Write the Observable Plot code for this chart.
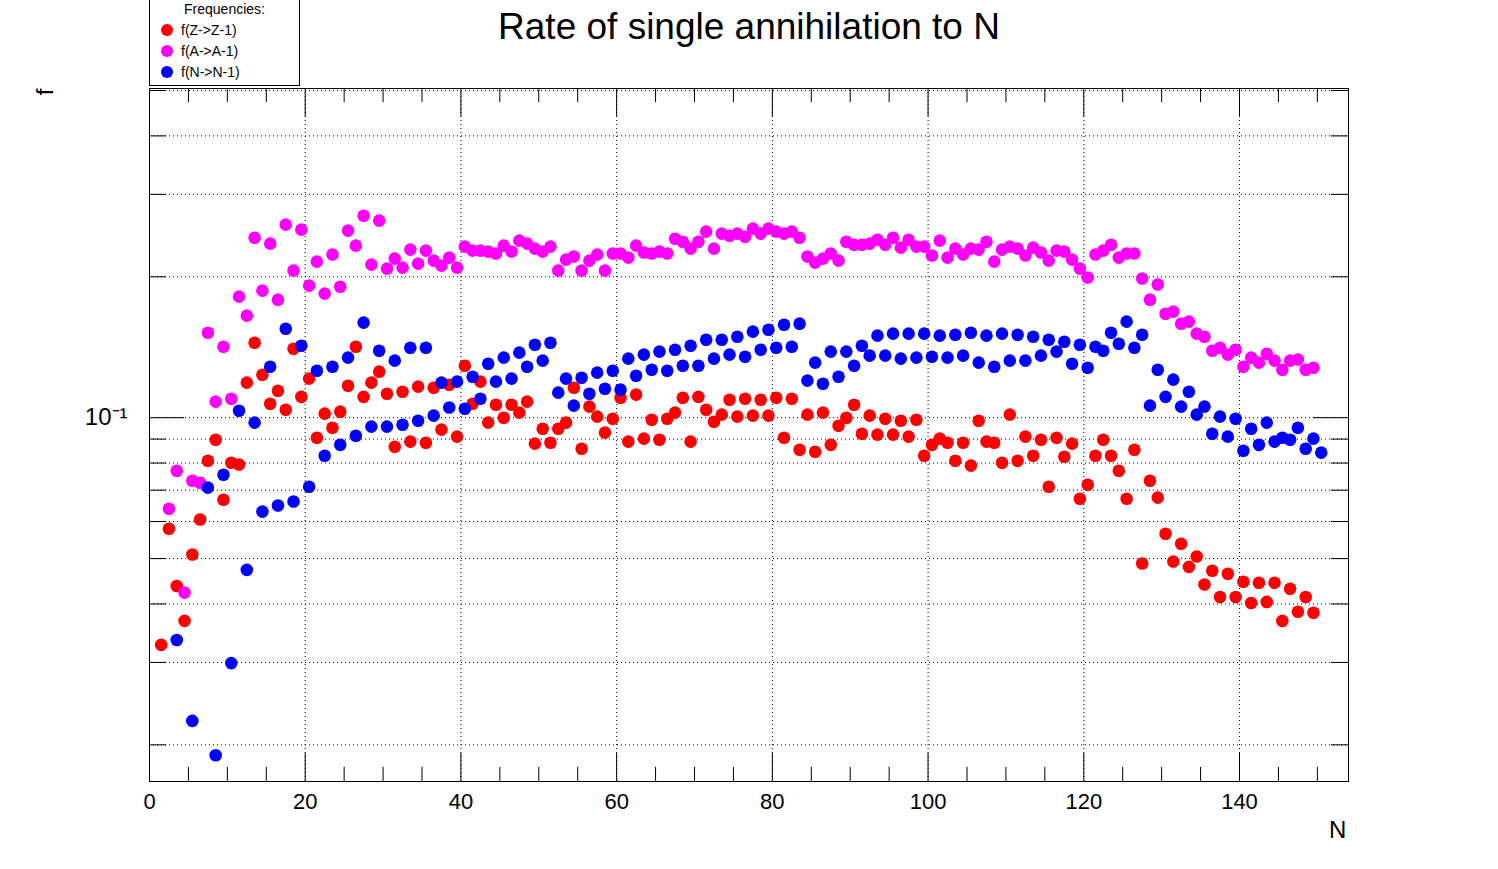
<!DOCTYPE html>
<html>
<head>
<meta charset="utf-8">
<script src="https://cdn.jsdelivr.net/npm/d3@7"></script>
<script src="https://cdn.jsdelivr.net/npm/@observablehq/plot@0.6"></script>
<style>
  body { margin: 0; background: #fff; font-family: "Liberation Sans", Arial, sans-serif; }
  #wrap { position: relative; width: 1498px; height: 869px; }
  #chart { position: absolute; left: 0; top: 0; }
  .title { position: absolute; left: 0; width: 1498px; top: 6px; text-align: center; font-size: 37px; }
  .legend { position: absolute; left: 149px; top: -1px; width: 149px; height: 85px; border: 1px solid #000; background: #fff; font-size: 14px; }
  .legend .hd { text-align: center; margin-top: 1px; }
  .legend .row { position: absolute; left: 11px; }
  .legend .dot { display: inline-block; width: 12px; height: 12px; border-radius: 6px; vertical-align: -1px; margin-right: 8px; }
  .ylab { position: absolute; left: 42px; top: 78px; font-size: 24px; transform: rotate(-90deg); }
  .xlab { position: absolute; left: 1329px; top: 816px; font-size: 24px; }
</style>
</head>
<body>
<div id="wrap">
  <div id="chart"></div>
  <div class="title">Rate of single annihilation to N</div>
  <div class="legend">
    <div class="hd">Frequencies:</div>
    <div class="row" style="top:22px"><span class="dot" style="background:#ff0000"></span>f(Z-&gt;Z-1)</div>
    <div class="row" style="top:43px"><span class="dot" style="background:#ff00ff"></span>f(A-&gt;A-1)</div>
    <div class="row" style="top:64px"><span class="dot" style="background:#0000ff"></span>f(N-&gt;N-1)</div>
  </div>
  <div class="ylab">f</div>
  <div class="xlab">N</div>
</div>
<script>
// f(Z->Z-1), N = 1..149
const fZ = [.0327,.0579,.0437,.0368,.0510,.0606,.0809,.0897,.0668,.0801,
  .0794,.1188,.1446,.1235,.1071,.1142,.1040,.1404,.1108,.1212,
  .0906,.1020,.0952,.1030,.1170,.1418,.1108,.1188,.1254,.1125,
  .0867,.1136,.0889,.1165,.0884,.1159,.0943,.1176,.0911,.1291,
  .1071,.1194,.0976,.1066,.1000,.1066,.1025,.1082,.0880,.0947,
  .0884,.0947,.0976,.1159,.0858,.1056,.1005,.0929,.0995,.1103,
  .0889,.1120,.0902,.0990,.0897,.0995,.1025,.1103,.0889,.1108,
  .1040,.0980,.1015,.1092,.1005,.1098,.1010,.1092,.1010,.1103,
  .0906,.1098,.0854,.1015,.0846,.1025,.0875,.0961,.1000,.1066,
  .0924,.1010,.0920,.0995,.0920,.0985,.0911,.0990,.0829,.0875,
  .0902,.0884,.0809,.0884,.0790,.0985,.0889,.0884,.0801,.1015,
  .0809,.0911,.0829,.0897,.0712,.0906,.0825,.0880,.0671,.0719,
  .0829,.0897,.0829,.0770,.0671,.0854,.0488,.0733,.0675,.0565,
  .0493,.0538,.0480,.0505,.0440,.0471,.0414,.0464,.0414,.0446,
  .0402,.0444,.0404,.0444,.0368,.0431,.0385,.0414,.0383]

// f(A->A-1), N = 1..149
const fA = [null,.0639,.0770,.0423,.0733,.0726,.1519,.1082,.1418,.1098,
  .1814,.1652,.2424,.1868,.2354,.1787,.2585,.2062,.2522,.1915,
  .2155,.1841,.2231,.1905,.2510,.2331,.2700,.2123,.2636,.2082,
  .2187,.2092,.2286,.2134,.2275,.2165,.2113,.2198,.2092,.2320,
  .2275,.2275,.2264,.2242,.2331,.2264,.2389,.2354,.2297,.2264,
  .2320,.2062,.2176,.2209,.2062,.2165,.2231,.2062,.2242,.2242,
  .2198,.2331,.2253,.2242,.2264,.2242,.2412,.2377,.2297,.2377,
  .2498,.2297,.2473,.2448,.2473,.2436,.2535,.2473,.2535,.2498,
  .2473,.2498,.2424,.2209,.2144,.2187,.2242,.2165,.2377,.2342,
  .2342,.2354,.2400,.2342,.2424,.2308,.2400,.2320,.2320,.2220,
  .2389,.2198,.2297,.2231,.2297,.2286,.2377,.2155,.2286,.2320,
  .2297,.2220,.2308,.2253,.2165,.2275,.2264,.2176,.2082,.1993,
  .2231,.2275,.2342,.2198,.2242,.2242,.1983,.1787,.1925,.1668,
  .1685,.1588,.1604,.1512,.1489,.1390,.1411,.1364,.1397,.1285,
  .1344,.1311,.1370,.1324,.1266,.1324,.1331,.1266,.1278]

// f(N->N-1), N = 1..150
const fN = [null,null,.0335,null,.0225,null,.0709,.0190,.0755,.0299,
  .1035,.0473,.0976,.0630,.1285,.0649,.1549,.0662,.1425,.0712,
  .1260,.0829,.1285,.0875,.1344,.0915,.1596,.0957,.1390,.0957,
  .1324,.0966,.1411,.0985,.1411,.1010,.1188,.1051,.1194,.1045,
  .1223,.1098,.1304,.1194,.1344,.1212,.1377,.1285,.1432,.1324,
  .1446,.1131,.1212,.1061,.1217,.1125,.1248,.1153,.1260,.1148,
  .1337,.1229,.1364,.1266,.1384,.1260,.1397,.1291,.1425,.1291,
  .1467,.1337,.1467,.1364,.1489,.1350,.1527,.1397,.1541,.1411,
  .1580,.1418,.1588,.1200,.1311,.1182,.1384,.1223,.1384,.1291,
  .1425,.1357,.1497,.1357,.1512,.1337,.1512,.1344,.1512,.1350,
  .1497,.1344,.1504,.1357,.1519,.1311,.1497,.1285,.1512,.1324,
  .1504,.1324,.1489,.1357,.1467,.1384,.1453,.1304,.1432,.1278,
  .1418,.1390,.1519,.1439,.1604,.1411,.1504,.1061,.1266,.1108,
  .1206,.1056,.1136,.1015,.1056,.0924,.1005,.0911,.0995,.0850,
  .0947,.0875,.0976,.0889,.0906,.0897,.0952,.0858,.0902,.0842]

const series = [
  {name: "f(Z->Z-1)", values: fZ, color: "#ff0000"},
  {name: "f(A->A-1)", values: fA, color: "#ff00ff"},
  {name: "f(N->N-1)", values: fN, color: "#0000ff"}
]

const xTicks = [0, 20, 40, 60, 80, 100, 120, 140]
const xMinor = d3.range(0, 155, 5)
const yTicks = [0.02, 0.03, 0.04, 0.05, 0.06, 0.07, 0.08, 0.09, 0.1, 0.2, 0.3, 0.4, 0.5]

const yMin = 0.0167, yMax = 0.505, xMax = 154

// points sit at bin centres N + 0.5
const rows = series.flatMap(s => s.values.map((v, i) => ({n: i + 1.5, f: v, color: s.color})).filter(d => d.f != null))

const tk = 1.072        // tick length on the log axis (~15px)
const tkBig = 1.15

const chart = Plot.plot({
  width: 1498,
  height: 869,
  marginLeft: 149,
  marginRight: 150,
  marginTop: 88,
  marginBottom: 88,
  style: {fontFamily: "Liberation Sans, Arial, sans-serif", background: "white"},
  x: {domain: [0, xMax]},
  y: {type: "log", domain: [yMin, yMax]},
  marks: [
    // dotted grid
    Plot.ruleX(xTicks.slice(1), {stroke: "black", strokeDasharray: "1,3", strokeWidth: 1}),
    Plot.ruleY(yTicks, {stroke: "black", strokeDasharray: "1,3", strokeWidth: 1}),
    // inward ticks
    Plot.ruleX(xMinor, {y1: yMin, y2: d => yMin * (d % 20 === 0 ? tkBig : tk), stroke: "black"}),
    Plot.ruleX(xMinor, {y1: yMax, y2: d => yMax / (d % 20 === 0 ? tkBig : tk), stroke: "black"}),
    Plot.ruleY(yTicks, {x1: 0, x2: d => d === 0.1 ? 4.5 : 2.2, stroke: "black"}),
    Plot.ruleY(yTicks, {x1: xMax, x2: d => xMax - (d === 0.1 ? 4.5 : 2.2), stroke: "black"}),
    Plot.dot(rows, {x: "n", y: "f", fill: "color", r: 6.3}),
    Plot.axisX({ticks: xTicks, tickSize: 0, tickPadding: 12, fontSize: 22, label: null}),
    Plot.axisY({ticks: [0.1], tickSize: 0, tickPadding: 22, fontSize: 24, tickFormat: () => "10\u207B\u00B9", label: null}),
    Plot.frame({stroke: "black"})
  ]
})

d3.select('#chart').append(() => chart)
</script>
</body>
</html>
